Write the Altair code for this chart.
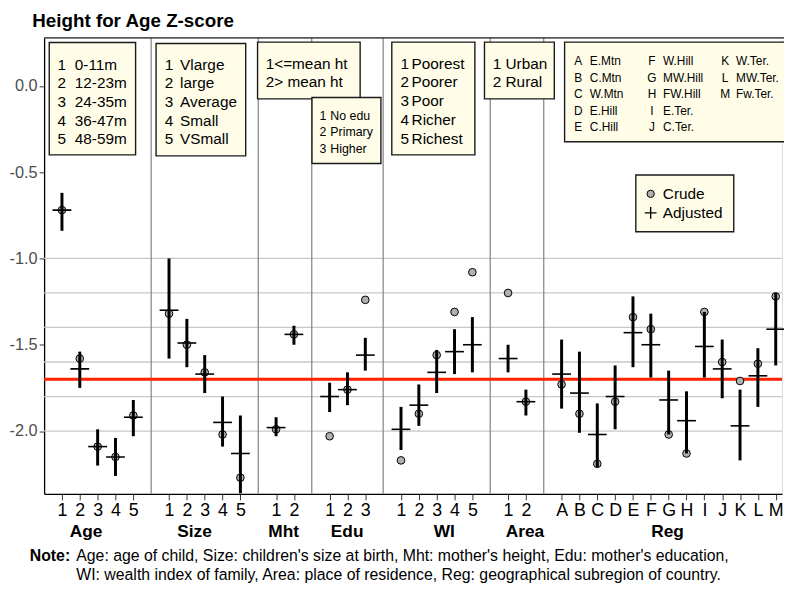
import json
import altair as alt
import pandas as pd

# ------------------------------------------------------------------ data
groups = ["Age", "Size", "Mht", "Edu", "WI", "Area", "Reg"]

age_ticks = ["1", "2", "3", "4", "5"]
size_ticks = ["1", "2", "3", "4", "5"]
mht_ticks = ["1", "2"]
edu_ticks = ["1", "2", "3"]
wi_ticks = ["1", "2", "3", "4", "5"]
area_ticks = ["1", "2"]
reg_ticks = ["A", "B", "C", "D", "E", "F", "G", "H", "I", "J", "K", "L", "M"]

age_crude = [-0.72, -1.58, -2.09, -2.15, -1.91]
age_adj = [-0.72, -1.64, -2.09, -2.15, -1.92]
age_lo = [-0.84, -1.75, -2.20, -2.26, -2.03]
age_hi = [-0.62, -1.54, -1.99, -2.04, -1.82]

size_crude = [-1.32, -1.50, -1.66, -2.02, -2.27]
size_adj = [-1.30, -1.49, -1.67, -1.95, -2.13]
size_lo = [-1.58, -1.63, -1.78, -2.09, -2.36]
size_hi = [-1.00, -1.35, -1.56, -1.80, -1.91]

mht_crude = [-1.99, -1.44]
mht_adj = [-1.98, -1.44]
mht_lo = [-2.03, -1.50]
mht_hi = [-1.92, -1.39]

edu_crude = [-2.03, -1.76, -1.24]
edu_adj = [-1.80, -1.76, -1.56]
edu_lo = [-1.89, -1.85, -1.65]
edu_hi = [-1.72, -1.66, -1.46]

wi_crude = [-2.17, -1.90, -1.56, -1.31, -1.08]
wi_adj = [-1.99, -1.85, -1.66, -1.54, -1.50]
wi_lo = [-2.11, -1.97, -1.78, -1.67, -1.66]
wi_hi = [-1.86, -1.73, -1.53, -1.41, -1.34]

area_crude = [-1.20, -1.83]
area_adj = [-1.58, -1.83]
area_lo = [-1.66, -1.91]
area_hi = [-1.50, -1.76]

reg_crude = [-1.73, -1.90, -2.19, -1.83, -1.34, -1.41, -2.02, -2.13, -1.31, -1.60, -1.71, -1.61, -1.22]
reg_adj = [-1.67, -1.78, -2.02, -1.80, -1.43, -1.50, -1.82, -1.94, -1.51, -1.64, -1.97, -1.68, -1.41]
reg_lo = [-1.87, -2.01, -2.21, -1.99, -1.63, -1.69, -2.02, -2.13, -1.69, -1.81, -2.17, -1.86, -1.62]
reg_hi = [-1.47, -1.54, -1.84, -1.62, -1.22, -1.32, -1.65, -1.77, -1.31, -1.47, -1.76, -1.52, -1.20]

ref_value = -1.70
grid_values = [-1.0, -1.2, -1.4, -1.6, -1.8, -2.0]
y_tick_values = [0.0, -0.5, -1.0, -1.5, -2.0]
group_label_x = [2.35, 8.43, 13.42, 16.98, 22.43, 26.95, 34.94]

age_legend = ["0-11m", "12-23m", "24-35m", "36-47m", "48-59m"]
size_legend = ["Vlarge", "large", "Average", "Small", "VSmall"]
mht_legend = ["1<=mean ht", "2> mean ht"]
edu_legend = ["No edu", "Primary", "Higher"]
wi_legend = ["Poorest", "Poorer", "Poor", "Richer", "Richest"]
area_legend = ["Urban", "Rural"]
reg_legend = ["E.Mtn", "C.Mtn", "W.Mtn", "E.Hill", "C.Hill", "W.Hill", "MW.Hill",
              "FW.Hill", "E.Ter.", "C.Ter.", "W.Ter.", "MW.Ter.", "Fw.Ter."]
key_labels = ["Crude", "Adjusted"]

title_text = "Height for Age Z-score"
note_head = "Note:"
note_lines = [
    "Age: age of child, Size: children's size at birth, Mht: mother's height, Edu: mother's education,",
    "WI: wealth index of family, Area: place of residence, Reg: geographical subregion of country.",
]

# ------------------------------------------------------------------ table
tick_sets = [age_ticks, size_ticks, mht_ticks, edu_ticks, wi_ticks, area_ticks, reg_ticks]
crude_sets = [age_crude, size_crude, mht_crude, edu_crude, wi_crude, area_crude, reg_crude]
adj_sets = [age_adj, size_adj, mht_adj, edu_adj, wi_adj, area_adj, reg_adj]
lo_sets = [age_lo, size_lo, mht_lo, edu_lo, wi_lo, area_lo, reg_lo]
hi_sets = [age_hi, size_hi, mht_hi, edu_hi, wi_hi, area_hi, reg_hi]

rows = []
separators = []
start = 1
for g, ticks, cr, ad, lo, hi in zip(groups, tick_sets, crude_sets, adj_sets, lo_sets, hi_sets):
    for k, t in enumerate(ticks):
        rows.append(dict(group=g, tick=t, idx=start + k, crude=cr[k], adj=ad[k], lo=lo[k], hi=hi[k]))
    start += len(ticks) + 1
    separators.append(start - 1)
separators = separators[:-1]
df = pd.DataFrame(rows)

# ------------------------------------------------------------------ layout
FONT = "Liberation Sans"
W, H = 746, 461
X0, Y0 = 44.5, 35.0          # page position of plot origin
XMAX = W / 18.04
YMAX = (83.5 - Y0) / 174.5
YMIN = YMAX - H / 174.5

lab_arr = [""] * (int(XMAX) + 2)
for r in rows:
    lab_arr[r["idx"]] = r["tick"]

xs = alt.Scale(domain=[0, XMAX], nice=False, zero=False)
ys = alt.Scale(domain=[YMIN, YMAX], nice=False, zero=False)

x_axis = alt.Axis(values=[r["idx"] for r in rows], labelExpr=json.dumps(lab_arr) + "[datum.value]",
                  title=None, grid=False, labelFontSize=18, labelColor="black", labelFont=FONT,
                  tickSize=6, tickColor="#333333", tickWidth=1, domainColor="black", domainWidth=1.3,
                  labelPadding=2, labelAngle=0, labelOverlap=False, labelFlush=False, labelBound=False)
y_axis = alt.Axis(values=y_tick_values,
                  labelExpr="(datum.value < 0 ? '-' : '') + format(abs(datum.value), '.1f')",
                  title=None, grid=False, labelFontSize=16.5, labelColor="#4D4D4D", labelFont=FONT,
                  tickSize=5, tickColor="#333333", tickWidth=1, domainColor="black", domainWidth=1.3,
                  labelPadding=2, labelOverlap=False)


def P(x, y):
    return x - X0, y - Y0


# annotation boxes (page px)
boxes = [
    (49.7, 39.7, 137.0, 153.3),
    (157.7, 40.7, 248.3, 154.3),
    (260.3, 39.3, 364.0, 96.7),
    (315.3, 95.3, 385.0, 162.0),
    (396.0, 39.3, 480.0, 153.3),
    (489.7, 39.3, 560.3, 96.7),
    (570.7, 39.3, 820.0, 140.0),
    (642.7, 173.7, 741.7, 231.0),
]
box_df = pd.DataFrame([dict(zip(["x1", "y1", "x2", "y2"], (*P(a, b), *P(c, d)))) for a, b, c, d in boxes])

texts = []


def add(x, yc, text, fs, align="left", weight="normal", baseline_given=False):
    yb = yc if baseline_given else yc + 0.36 * fs
    px, py = P(x, yb)
    texts.append(dict(px=px, py=py, text=text, fs=fs, align=align, weight=weight))


def numbered(xn, xt, y0, step, items, fs):
    for i, it in enumerate(items):
        add(xn, y0 + i * step, str(i + 1), fs)
        add(xt, y0 + i * step, it, fs)


numbered(58.0, 75.5, 61.7, 18.8, age_legend, 15.5)
numbered(166.5, 182.0, 61.7, 18.8, size_legend, 15.5)
for i, it in enumerate(mht_legend):
    add(268.5, 60.7 + i * 18.8, it, 15.5)
numbered(323.0, 333.8, 113.7, 16.5, edu_legend, 12.5)
numbered(404.8, 416.0, 60.7, 18.9, wi_legend, 15.5)
numbered(498.0, 511.0, 60.7, 18.8, area_legend, 15.5)
for i, (t, name) in enumerate(zip(reg_ticks, reg_legend)):
    col, row = divmod(i, 5)
    add([584.5, 659.0, 733.0][col], 58.3 + row * 16.7, t, 12, align="center")
    add([596.2, 670.2, 744.0][col], 58.3 + row * 16.7, name, 12)
add(670.0, 192.7, key_labels[0], 15.5)
add(670.0, 212.0, key_labels[1], 15.5)
add(32.5, 24.0, title_text, 19, weight="bold", baseline_given=True)
add(30.0, 564.0, note_head, 16, weight="bold", baseline_given=True)
add(77.0, 564.0, note_lines[0], 16, baseline_given=True)
add(77.0, 582.7, note_lines[1], 16, baseline_given=True)
text_df = pd.DataFrame(texts)

group_df = pd.DataFrame(dict(gx=group_label_x, name=groups))

# ------------------------------------------------------------------ layers
# every layer that shares the x / y scale carries the same axis definition
grid = alt.Chart(pd.DataFrame(dict(v=grid_values))).mark_rule(color="#C8C8C8", strokeWidth=1.3).encode(
    y=alt.Y("v:Q", scale=ys, axis=y_axis))
seps = alt.Chart(pd.DataFrame(dict(s=separators))).mark_rule(color="#808080", strokeWidth=1.2).encode(
    x=alt.X("s:Q", scale=xs, axis=x_axis))
topline = alt.Chart(pd.DataFrame(dict(a=[0]))).mark_rule(color="#222222", strokeWidth=1.3).encode(
    x=alt.value(0), x2=alt.value(W + 10), y=alt.value(0))
ref = alt.Chart(pd.DataFrame(dict(r=[ref_value]))).mark_rule(color="#FF2200", strokeWidth=3).encode(
    y=alt.Y("r:Q", scale=ys, axis=y_axis))

base = alt.Chart(df)
crude = base.mark_circle(color="#B0B0B0", stroke="black", strokeWidth=1, size=60, opacity=1).encode(
    x=alt.X("idx:Q", scale=xs, axis=x_axis), y=alt.Y("crude:Q", scale=ys, axis=y_axis))
bars = base.mark_rule(color="black", strokeWidth=3).encode(
    x=alt.X("idx:Q", scale=xs, axis=x_axis), y=alt.Y("lo:Q", scale=ys, axis=y_axis), y2="hi:Q")
adj = base.mark_tick(orient="horizontal", color="black", size=19, thickness=1.6, opacity=1).encode(
    x=alt.X("idx:Q", scale=xs, axis=x_axis), y=alt.Y("adj:Q", scale=ys, axis=y_axis))

rects = alt.Chart(box_df).mark_rect(fill="#FFFDE8", stroke="#1A1A1A", strokeWidth=1.4).encode(
    x=alt.X("x1:Q", scale=None, axis=None), x2="x2:Q",
    y=alt.Y("y1:Q", scale=None, axis=None), y2="y2:Q")

kx, ky1 = P(657.7, 192.7)
_, ky2 = P(657.7, 212.0)
key_circle = alt.Chart(pd.DataFrame(dict(a=[0]))).mark_circle(
    color="#B0B0B0", stroke="black", strokeWidth=1, size=55, opacity=1).encode(
    x=alt.value(kx), y=alt.value(ky1))
key_cross = alt.Chart(pd.DataFrame(dict(a=[0]))).mark_point(
    shape="M-1,0H1M0,-1V1", filled=False, color="black", strokeWidth=1.4, size=144, opacity=1).encode(
    x=alt.value(kx), y=alt.value(ky2))

text_layers = []
for (al, wt), sub in text_df.groupby(["align", "weight"]):
    text_layers.append(
        alt.Chart(sub).mark_text(align=al, baseline="alphabetic", fontWeight=wt, font=FONT, color="black").encode(
            x=alt.X("px:Q", scale=None, axis=None), y=alt.Y("py:Q", scale=None, axis=None),
            text="text:N", size=alt.Size("fs:Q", scale=None, legend=None)))

group_text = alt.Chart(group_df).mark_text(
    align="center", baseline="alphabetic", fontWeight="bold", font=FONT, fontSize=17.5, color="black").encode(
    x=alt.X("gx:Q", scale=xs, axis=x_axis), y=alt.value(540 - Y0), text="name:N")

chart = alt.layer(
    grid, seps, ref, crude, bars, adj, topline, rects, key_circle, key_cross, group_text, *text_layers
).properties(
    width=W, height=H,
    autosize=alt.AutoSizeParams(type="none"),
    padding={"left": X0 - 8, "top": Y0 - 8, "right": 2, "bottom": 92},
).configure_view(stroke=None).configure_axis(labelOverlap=False).configure(font=FONT)

chart.save("out.html", embed_options={"renderer": "svg", "actions": False})
